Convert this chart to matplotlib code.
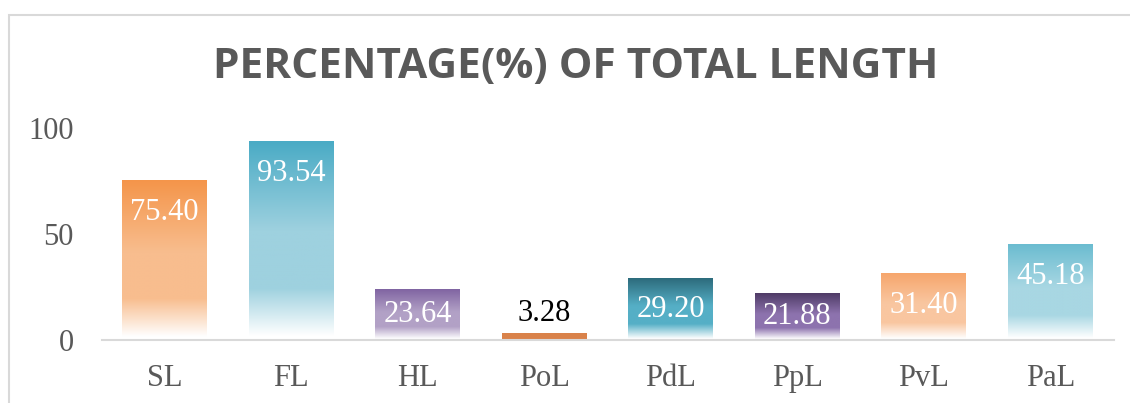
import numpy as np
import matplotlib.pyplot as plt
from matplotlib.colors import to_rgb
from matplotlib.patches import Rectangle

categories = ['SL', 'FL', 'HL', 'PoL', 'PdL', 'PpL', 'PvL', 'PaL']
values = [75.40, 93.54, 23.64, 3.28, 29.20, 21.88, 31.40, 45.18]
top_colors = ['#F4954A', '#4AABC5', '#8064A2', '#D9824A', '#2D6B7C', '#4F3B66', '#F6A66C', '#6BBCD0']
mid_colors = ['#F8BD8E', '#9ED1DF', '#B2A1C6', '#E2965E', '#55AFC6', '#8D73AE', '#F9C6A0', '#A8D7E3']

W, H = 1130, 403
fig = plt.figure(figsize=(W / 100, H / 100), dpi=100)
ax = fig.add_axes([101.5 / W, 1 - 340 / H, (1113.5 - 101.5) / W, (340 - 128) / H])

# light frame around the chart area
fig.patches.append(Rectangle((9 / W, -0.1), 1.2, 1.1 - 15 / H, transform=fig.transFigure,
                             fill=False, edgecolor='#D9D9D9', linewidth=1.5))

x = np.arange(len(categories))
width = 0.67
bars = ax.bar(x, values, width=width, color='none', edgecolor='none', zorder=2)


def gradient(c_top, c_mid, n=256):
    t = np.linspace(0, 1, n)
    top, mid, white = np.array(to_rgb(c_top)), np.array(to_rgb(c_mid)), np.ones(3)
    out = np.zeros((n, 3))
    for i, v in enumerate(t):
        if v < 0.45:
            out[i] = top + (mid - top) * v / 0.45
        elif v < 0.74:
            out[i] = mid
        else:
            f = min((v - 0.74) / 0.24, 1)
            out[i] = mid + (white - mid) * f
    return out[:, None, :]


for b, ct, cm in zip(bars, top_colors, mid_colors):
    x0, w, h = b.get_x(), b.get_width(), b.get_height()
    if h < 5:
        img = np.tile(np.array(to_rgb(ct)), (2, 1))[:, None, :]
    else:
        img = gradient(ct, cm)
    ax.imshow(img, extent=(x0, x0 + w, 0, h), aspect='auto', origin='upper', zorder=2)

# value labels
for b, v in zip(bars, values):
    cx = b.get_x() + b.get_width() / 2
    h_px = v * 2.12
    if v < 5:
        ax.annotate(f'{v:.2f}', (cx, v), xytext=(0, 14), textcoords='offset points',
                    ha='center', va='center', fontsize=22, color='black',
                    family='Liberation Serif', zorder=3)
    else:
        off = min(32, h_px / 2) * 0.72
        ax.annotate(f'{v:.2f}', (cx, v), xytext=(0, -off), textcoords='offset points',
                    ha='center', va='center', fontsize=22, color='white',
                    family='Liberation Serif', zorder=3)

ax.set_xlim(-0.5, len(categories) - 0.5)
ax.set_ylim(0, 100)
ax.set_yticks([0, 50, 100])
ax.set_xticks(x)
ax.set_xticklabels(categories)
for s in ['top', 'right', 'left']:
    ax.spines[s].set_visible(False)
ax.spines['bottom'].set_color('#D9D9D9')
ax.spines['bottom'].set_linewidth(1.5)
ax.tick_params(axis='both', length=0, labelsize=22, labelcolor='#595959')
ax.tick_params(axis='y', pad=20)
ax.tick_params(axis='x', pad=17)
for lab in ax.get_xticklabels() + ax.get_yticklabels():
    lab.set_family('Liberation Serif')

fig.text(576 / W, 1 - 67 / H, 'PERCENTAGE(%) OF TOTAL LENGTH', ha='center', va='center',
         fontsize=30.5, fontweight='bold', color='#595959', family='Open Sans')

fig.savefig('out.png', dpi=100)
